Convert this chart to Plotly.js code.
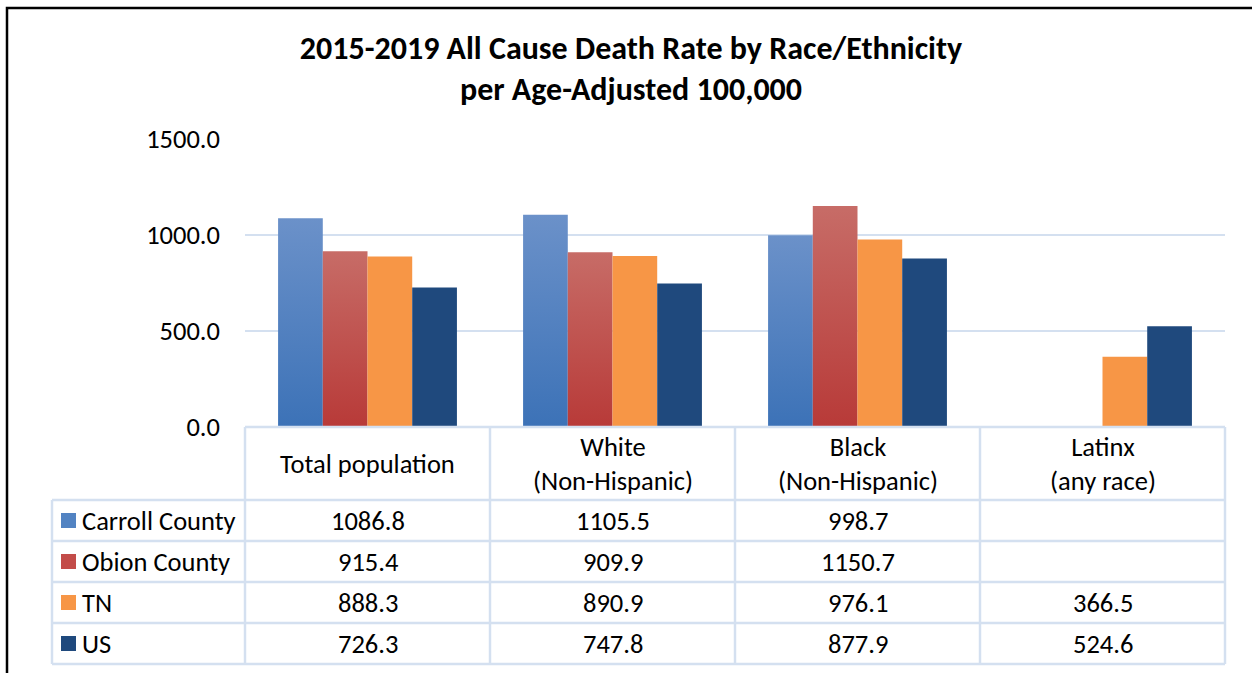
<!DOCTYPE html>
<html>
<head>
<meta charset="utf-8">
<script src="https://cdn.plot.ly/plotly-3.0.1.min.js"></script>
<style>html,body{margin:0;padding:0;background:#fff;}#chart{width:1252px;height:673px;}</style>
</head>
<body>
<div id="chart"></div>
<script>
// ---- data ----
const categories = ['Total population', 'White<br>(Non-Hispanic)', 'Black<br>(Non-Hispanic)', 'Latinx<br>(any race)'];
const seriesNames = ['Carroll County', 'Obion County', 'TN', 'US'];
const carrollCounty = [1086.8, 1105.5, 998.7, null];
const obionCounty = [915.4, 909.9, 1150.7, null];
const tnValues = [888.3, 890.9, 976.1, 366.5];
const usValues = [726.3, 747.8, 877.9, 524.6];
const yTicks = [0, 500, 1000, 1500];
const titleText = '2015-2019 All Cause Death Rate by Race/Ethnicity<br>per Age-Adjusted 100,000';

// ---- styling ----
const seriesValues = [carrollCounty, obionCounty, tnValues, usValues];
const seriesColors = ['#5283C2', '#C34C49', '#F79646', '#1F497D'];
// top/bottom colours of the vertical gradient of each series
const gradTop = ['#6B91C9', '#C76C67', '#F79646', '#1F497D'];
const gradBottom = ['#3C72B7', '#B83A38', '#F79646', '#1F497D'];
const FONT = 'Carlito, Lato, "Open Sans", sans-serif';
const TXT = 26.5;
const lineCol = '#D4E0F0';

// geometry helpers (pixel -> paper)
const W = 1252, H = 673;
const L = 245, R = 1225, T = 139, B = 427;
const px = x => (x - L) / (R - L);
const py = y => (B - y) / (B - T);

const traces = seriesNames.map((name, i) => ({
  type: 'bar',
  name: name,
  x: categories,
  y: seriesValues[i],
  marker: {color: seriesColors[i], line: {width: 0}},
  hoverinfo: 'x+y+name'
}));

const shapes = [];
const annotations = [];

// outer frame
shapes.push({type: 'rect', xref: 'paper', yref: 'paper', x0: px(7), x1: px(1270), y0: py(8), y1: py(720),
  line: {color: '#000', width: 2.5}, fillcolor: 'rgba(0,0,0,0)', layer: 'below'});

// table grid
const colEdges = [245, 490, 735, 980, 1225];
const rowEdges = [500, 541, 582, 623, 664];
shapes.push({type: 'line', xref: 'paper', yref: 'paper', x0: px(245), x1: px(1225), y0: py(427), y1: py(427), line: {color: lineCol, width: 2.5}});
rowEdges.forEach(r => shapes.push({type: 'line', xref: 'paper', yref: 'paper', x0: px(52), x1: px(1225), y0: py(r), y1: py(r), line: {color: lineCol, width: 2.5}}));
colEdges.forEach(c => shapes.push({type: 'line', xref: 'paper', yref: 'paper', x0: px(c), x1: px(c), y0: py(427), y1: py(664), line: {color: lineCol, width: 2.5}}));
shapes.push({type: 'line', xref: 'paper', yref: 'paper', x0: px(52), x1: px(52), y0: py(500), y1: py(664), line: {color: lineCol, width: 2.5}});

// header labels
categories.forEach(c => annotations.push({xref: 'x', yref: 'paper', x: c, y: py(464), text: c, showarrow: false,
  xanchor: 'center', yanchor: 'middle', font: {family: FONT, size: TXT, color: '#000'}}));

// rows: legend key + name + values
seriesNames.forEach((name, i) => {
  const yc = (rowEdges[i] + rowEdges[i + 1]) / 2;
  shapes.push({type: 'rect', xref: 'paper', yref: 'paper', x0: px(61), x1: px(76), y0: py(yc - 7.5), y1: py(yc + 7.5),
    line: {width: 0}, fillcolor: seriesColors[i]});
  annotations.push({xref: 'paper', yref: 'paper', x: px(80), y: py(yc), text: name, showarrow: false,
    xanchor: 'left', yanchor: 'middle', font: {family: FONT, size: TXT, color: '#000'}});
  seriesValues[i].forEach((v, j) => {
    if (v === null) return;
    annotations.push({xref: 'x', yref: 'paper', x: categories[j], y: py(yc), text: v.toFixed(1), showarrow: false,
      xanchor: 'center', yanchor: 'middle', font: {family: FONT, size: TXT, color: '#000'}});
  });
});

const layout = {
  width: W, height: H,
  margin: {l: L, r: W - R, t: T, b: H - B, pad: 0},
  paper_bgcolor: '#fff', plot_bgcolor: '#fff',
  title: {text: titleText, font: {family: FONT, size: 32, color: '#000', weight: 'bold'},
    x: 631 / W, xanchor: 'center', xref: 'container', y: 1 - 58.5 / H, yref: 'container', yanchor: 'middle'},
  showlegend: false,
  barmode: 'group', bargap: 0.27, bargroupgap: 0,
  xaxis: {type: 'category', showticklabels: false, showgrid: false, zeroline: false, showline: false, ticks: '', fixedrange: true},
  yaxis: {range: [0, 1500], tickvals: yTicks, tickformat: '.1f', showgrid: true, gridcolor: lineCol, gridwidth: 2.5,
    zeroline: false, showline: false, ticks: '', ticklabelstandoff: 24,
    tickfont: {family: FONT, size: TXT, color: '#000'}, fixedrange: true},
  shapes: shapes,
  annotations: annotations
};

Plotly.newPlot('chart', traces, layout, {displayModeBar: false, staticPlot: true}).then(gd => {
  // apply the Excel-like vertical gradient to each bar series
  try {
    const svg = gd.querySelector('svg.main-svg');
    const ns = 'http://www.w3.org/2000/svg';
    let defs = svg.querySelector('defs');
    if (!defs) { defs = document.createElementNS(ns, 'defs'); svg.insertBefore(defs, svg.firstChild); }
    gd.querySelectorAll('.barlayer .trace').forEach((tr, i) => {
      const id = 'bargrad' + i;
      const g = document.createElementNS(ns, 'linearGradient');
      g.setAttribute('id', id);
      g.setAttribute('x1', '0'); g.setAttribute('y1', '0'); g.setAttribute('x2', '0'); g.setAttribute('y2', '1');
      [[0, gradTop[i]], [1, gradBottom[i]]].forEach(([o, c]) => {
        const s = document.createElementNS(ns, 'stop');
        s.setAttribute('offset', o); s.setAttribute('stop-color', c);
        g.appendChild(s);
      });
      defs.appendChild(g);
      tr.querySelectorAll('path').forEach(p => { p.style.fill = 'url(#' + id + ')'; });
    });
  } catch (e) { /* keep solid fills */ }
});
</script>
</body>
</html>
